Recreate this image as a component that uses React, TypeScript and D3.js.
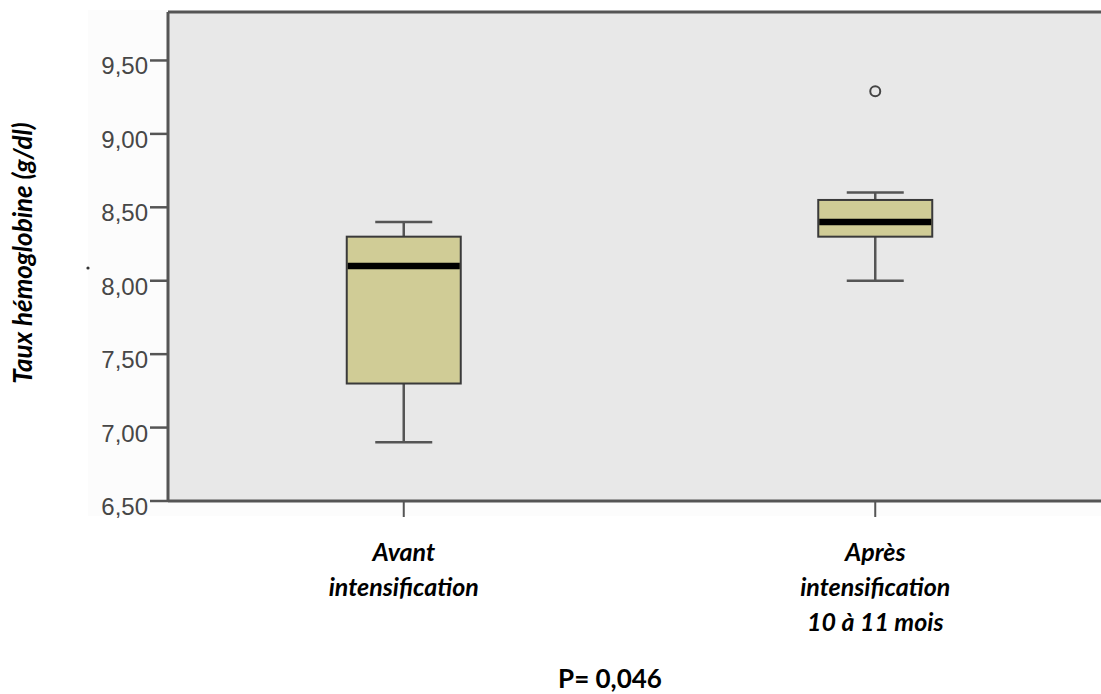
import React from "react";
import * as d3 from "d3";

const categories = ["Avant intensification", "Après intensification 10 à 11 mois"];
const categoryLines = [["Avant", "intensification"], ["Après", "intensification", "10 à 11 mois"]];
const whiskerLow = [6.9, 8.0];
const q1 = [7.3, 8.3];
const medians = [8.1, 8.4];
const q3 = [8.3, 8.55];
const whiskerHigh = [8.4, 8.6];
const outliers = [[], [9.29]];
const yTicks = [6.5, 7.0, 7.5, 8.0, 8.5, 9.0, 9.5];
const yLabel = "Taux hémoglobine (g/dl)";
const pValue = "P= 0,046";

const W = 1101;
const H = 694;
const left = 168;
const top = 12;
const bottom = 501;

export default function App() {
  const x = d3.scalePoint<string>().domain(categories).range([left, 1111]).padding(0.5);
  const y = d3.scaleLinear().domain([6.5, 9.83]).range([bottom, top]);
  const boxW = 114;
  const capW = 57;
  const fmt = (v: number) => v.toFixed(2).replace(".", ",");
  const labelFont = "Lato, 'Open Sans', sans-serif";
  return (
    <svg width={W} height={H} style={{ position: "absolute", left: 0, top: 0, background: "#ffffff" }}>
      <rect x={88} y={10} width={W - 88} height={506} fill="#fcfcfc" />
      <rect x={left} y={top} width={W - left} height={bottom - top} fill="#e8e8e8" />
      <circle cx={88} cy={268} r={1.6} fill="#333" />
      <line x1={left} x2={W} y1={top} y2={top} stroke="#555" strokeWidth={3} />
      <line x1={left} x2={W} y1={bottom} y2={bottom} stroke="#555" strokeWidth={3} />
      <line x1={left} x2={left} y1={top} y2={bottom} stroke="#555" strokeWidth={3} />
      {yTicks.map((t) => (
        <g key={t}>
          <line x1={150} x2={left} y1={y(t)} y2={y(t)} stroke="#555" strokeWidth={2.5} />
          <text
            x={148}
            y={y(t) + 14}
            textAnchor="end"
            fontFamily="'Liberation Sans', Arial, sans-serif"
            fontSize={24}
            fill="#474747"
          >
            {fmt(t)}
          </text>
        </g>
      ))}
      {categories.map((c, i) => {
        const cx = x(c) as number;
        return (
          <g key={c}>
            <line x1={cx} x2={cx} y1={bottom} y2={517} stroke="#555" strokeWidth={2} />
            <line x1={cx} x2={cx} y1={y(whiskerHigh[i])} y2={y(q3[i])} stroke="#555" strokeWidth={2.5} />
            <line x1={cx} x2={cx} y1={y(q1[i])} y2={y(whiskerLow[i])} stroke="#555" strokeWidth={2.5} />
            <line x1={cx - capW / 2} x2={cx + capW / 2} y1={y(whiskerHigh[i])} y2={y(whiskerHigh[i])} stroke="#555" strokeWidth={2.5} />
            <line x1={cx - capW / 2} x2={cx + capW / 2} y1={y(whiskerLow[i])} y2={y(whiskerLow[i])} stroke="#555" strokeWidth={2.5} />
            <rect
              x={cx - boxW / 2}
              y={y(q3[i])}
              width={boxW}
              height={y(q1[i]) - y(q3[i])}
              fill="#d0cc96"
              stroke="#3a3a3a"
              strokeWidth={2}
            />
            <line x1={cx - boxW / 2 + 1} x2={cx + boxW / 2 - 1} y1={y(medians[i])} y2={y(medians[i])} stroke="#000" strokeWidth={6.5} />
            {outliers[i].map((o, k) => (
              <circle key={k} cx={cx} cy={y(o)} r={5} fill="none" stroke="#444" strokeWidth={2} />
            ))}
            {categoryLines[i].map((ln, k) => (
              <text
                key={k}
                x={cx}
                y={561 + k * 35}
                textAnchor="middle"
                fontFamily={labelFont}
                fontWeight="bold"
                fontStyle="italic"
                fontSize={25}
                fill="#000"
              >
                {ln}
              </text>
            ))}
          </g>
        );
      })}
      <text
        transform={`translate(32, 253) rotate(-90)`}
        textAnchor="middle"
        fontFamily={labelFont}
        fontWeight="bold"
        fontStyle="italic"
        fontSize={26}
        fill="#000"
      >
        {yLabel}
      </text>
      <text x={610} y={688} textAnchor="middle" fontFamily={labelFont} fontWeight="bold" fontSize={26} fill="#000">
        {pValue}
      </text>
    </svg>
  );
}
